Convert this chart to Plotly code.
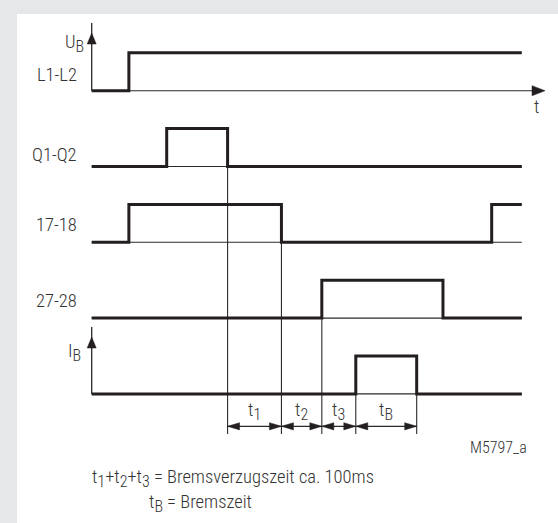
import plotly.graph_objects as go

# ---- data (time in ms) ----
signal_names = ["L1-L2", "Q1-Q2", "17-18", "27-28", "IB"]
signal_labels = ["L1-L2", "Q1-Q2", "17-18", "27-28", ""]
# transition times for each signal (starting low, toggling at each time)
transitions = [
    [29],
    [58.5, 106],
    [29, 148, 312],
    [179.5, 274],
    [206, 253.5],
]
t_end = 335.5
t_axis_tip = 353.6
# interval boundaries of the dimension arrows
interval_edges = [106, 148, 179.5, 206, 253.5]
interval_subs = ["1", "2", "3", "B"]
# guide lines: (time, row index where they start)
guide_times = [106, 148, 179.5, 206, 253.5]
guide_rows = [1, 2, 3, 4, 4]

# ---- layout constants ----
W, H = 558, 523
X0PX, XSC = 91.7, 1.282      # px at t=0, px per ms
Y0PX, YSC = 90.7, 37.9       # px of row-0 baseline, px per level unit
ROW_PITCH = 2.0
THICK = "#231f20"
THIN = "#2a2a2a"
TXT = "#333333"
FONT = "Roboto Condensed, Liberation Sans Narrow, Roboto, sans-serif"
FS = 18.5
SUBFS = 16


def tx(px):
    return (px - X0PX) / XSC


def ty(py):
    return -(py - Y0PX) / YSC


def base(i):
    return -ROW_PITCH * i


def sub(s):
    return "<sub><span style='font-size:%dpx'>%s</span></sub>" % (SUBFS, s)


fig = go.Figure()

# thin baselines of each row
for i in range(len(signal_names)):
    xe = t_axis_tip - 12 / XSC if i == 0 else t_end
    fig.add_trace(go.Scatter(x=[0, xe], y=[base(i), base(i)], mode="lines",
                             line=dict(color=THIN, width=1.1), hoverinfo="skip"))

# guide lines
y_guide_bottom = ty(434)
for t, r in zip(guide_times, guide_rows):
    fig.add_trace(go.Scatter(x=[t, t], y=[base(r), y_guide_bottom], mode="lines",
                             line=dict(color=THIN, width=1.1), hoverinfo="skip"))

# vertical axes (U_B and I_B)
for r, top_px in [(0, 33), (4, 337)]:
    top = ty(top_px)
    fig.add_trace(go.Scatter(x=[0, 0], y=[base(r), top + 10 / YSC], mode="lines",
                             line=dict(color=THIN, width=1.3), hoverinfo="skip"))

# step signals
for i, tr in enumerate(transitions):
    xs = [0]
    ys = [base(i)]
    lvl = 0
    for t in tr:
        lvl = 1 - lvl
        xs.append(t)
        ys.append(base(i) + lvl)
    xs.append(t_end)
    ys.append(base(i) + lvl)
    fig.add_trace(go.Scatter(x=xs, y=ys, mode="lines", line_shape="hv",
                             line=dict(color=THICK, width=3), hoverinfo="skip"))

# dimension lines
y_dim = ty(426.3)
fig.add_trace(go.Scatter(x=[interval_edges[0], interval_edges[-1]], y=[y_dim, y_dim],
                         mode="lines", line=dict(color=THIN, width=1.3), hoverinfo="skip"))

# arrowheads (polygons)
ax, ay = [], []
L, HH = 12 / XSC, 3.6 / YSC
for a, b in zip(interval_edges[:-1], interval_edges[1:]):
    ax += [a, a + L, a + L, a, None]
    ay += [y_dim, y_dim + HH, y_dim - HH, y_dim, None]
    ax += [b, b - L, b - L, b, None]
    ay += [y_dim, y_dim + HH, y_dim - HH, y_dim, None]
# t-axis arrow
La, Ha = 13 / XSC, 5 / YSC
ax += [t_axis_tip, t_axis_tip - La, t_axis_tip - La, t_axis_tip, None]
ay += [0, Ha, -Ha, 0, None]
# up arrows
Lu, Hu = 11 / YSC, 4.5 / XSC
for r, top_px in [(0, 33), (4, 337)]:
    top = ty(top_px)
    ax += [0, -Hu, Hu, 0, None]
    ay += [top, top - Lu, top - Lu, top, None]
fig.add_trace(go.Scatter(x=ax, y=ay, mode="lines", fill="toself", fillcolor=THICK,
                         line=dict(color=THICK, width=0.5), hoverinfo="skip"))

# ---- text ----
def label(xpx, ypx, text, anchor="right", size=FS):
    fig.add_annotation(x=tx(xpx), y=ty(ypx), text=text, showarrow=False,
                       xanchor=anchor, yanchor="middle",
                       font=dict(family=FONT, size=size, color=TXT, weight=300))

label(86, 43, "U" + sub("B"))
row_label_px = [75, 155, 225, 301]
for lab, ypx in zip(signal_labels[:4], row_label_px):
    label(79, ypx, lab)
label(83, 352, "I" + sub("B"))
label(536, 107, "t", anchor="center")

for a, b, s in zip(interval_edges[:-1], interval_edges[1:], interval_subs):
    fig.add_annotation(x=(a + b) / 2, y=ty(411), text="t" + sub(s), showarrow=False,
                       xanchor="center", yanchor="middle",
                       font=dict(family=FONT, size=FS, color=TXT, weight=300))

label(529, 447, "M5797_a", size=16)
label(90, 478, "t" + sub("1") + "+t" + sub("2") + "+t" + sub("3")
      + " = Bremsverzugszeit ca. 100ms", anchor="left")
label(147, 503, "t" + sub("B") + " = Bremszeit", anchor="left")

# white panel on gray background
fig.add_shape(type="rect", xref="paper", yref="paper", x0=17 / W, x1=1.0,
              y0=0, y1=1 - 14 / H, fillcolor="white", line_width=0, layer="below")

fig.update_layout(
    width=W, height=H, margin=dict(l=0, r=0, t=0, b=0),
    paper_bgcolor="#e6e7e9", plot_bgcolor="rgba(0,0,0,0)",
    showlegend=False,
    xaxis=dict(range=[tx(0), tx(W)], visible=False, fixedrange=True),
    yaxis=dict(range=[ty(H), ty(0)], visible=False, fixedrange=True),
)

fig.write_html("out.html", config={"displayModeBar": False},
               post_script="document.body.style.margin='0';document.body.style.overflow='hidden';")
